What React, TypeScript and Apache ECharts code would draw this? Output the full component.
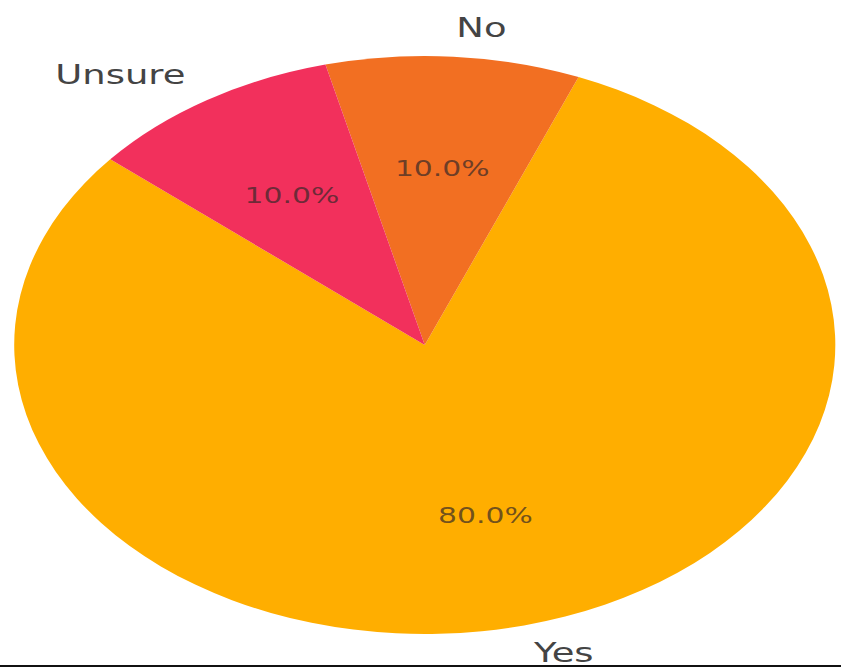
import React, { useEffect, useRef } from "react";
import * as echarts from "echarts";

const categories = ["Yes", "No", "Unsure"];
const values = [80, 10, 10];
const colors = ["#FFAE00", "#F26F22", "#F2305C"];

const W = 592;
const H = 671;
const SX = 1.4206;

export default function App() {
  const ref = useRef<HTMLDivElement>(null);
  useEffect(() => {
    if (!ref.current) return;
    const chart = echarts.init(ref.current, undefined, { renderer: "svg" });
    const R = 289;
    const data = categories.map((name, i) => ({
      name,
      value: values[i],
      itemStyle: { color: colors[i] },
    }));
    chart.setOption({
      animation: false,
      backgroundColor: "#ffffff",
      graphic: [
        {
          type: "rect",
          shape: { x: 0, y: 665, width: W, height: 2 },
          style: { fill: "#111111" },
        },
      ],
      series: [
        {
          type: "pie",
          center: [299, 345],
          radius: [0, R],
          startAngle: 140,
          clockwise: false,
          avoidLabelOverlap: false,
          silent: true,
          data,
          label: {
            show: true,
            position: "outside",
            formatter: "{b}",
            fontFamily: "DejaVu Sans",
            fontSize: 26,
            color: "#444444",
            distanceToLabelLine: 0,
          },
          labelLine: { show: false, length: R * 0.1, length2: 0 },
          itemStyle: { borderWidth: 0 },
        },
        {
          type: "pie",
          center: [299, 345],
          radius: [R * 0.2, R],
          startAngle: 140,
          clockwise: false,
          avoidLabelOverlap: false,
          silent: true,
          data: categories.map((name, i) => ({ name, value: values[i] })),
          itemStyle: { color: "rgba(0,0,0,0)", borderWidth: 0 },
          label: {
            show: true,
            position: "inside",
            formatter: (p: any) => p.percent.toFixed(1) + "%",
            fontFamily: "DejaVu Sans",
            fontSize: 21,
            color: "rgba(50,40,40,0.7)",
          },
          labelLine: { show: false },
        },
      ],
    });
    return () => chart.dispose();
  }, []);
  return (
    <div
      ref={ref}
      style={{
        position: "fixed",
        left: 0,
        top: 0,
        width: W,
        height: H,
        transform: `scale(${SX}, 1)`,
        transformOrigin: "0 0",
      }}
    />
  );
}
